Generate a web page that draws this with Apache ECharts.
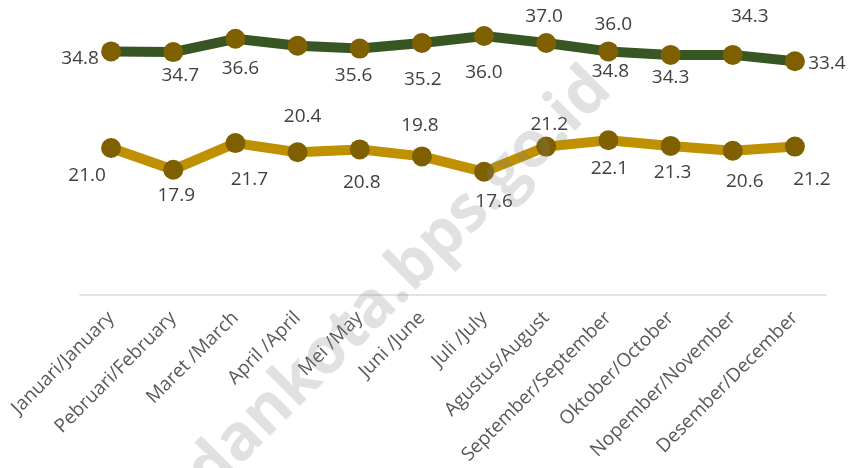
<!DOCTYPE html>
<html>
<head>
<meta charset="utf-8">
<script src="https://cdn.jsdelivr.net/npm/echarts@6/dist/echarts.min.js"></script>
<style>
  html, body { margin: 0; padding: 0; background: #fff; }
  #chart { width: 853px; height: 468px; }
</style>
</head>
<body>
<div id="chart"></div>
<script>
var months = [
  'Januari/January', 'Pebruari/February', 'Maret /March', 'April /April',
  'Mei /May', 'Juni /June', 'Juli /July', 'Agustus/August',
  'September/September', 'Oktober/October', 'Nopember/November', 'Desember/December'
];
var upperValues = [34.8, 34.7, 36.6, 35.6, 35.2, 36.0, 37.0, 36.0, 34.8, 34.3, 34.3, 33.4];
var lowerValues = [21.0, 17.9, 21.7, 20.4, 20.8, 19.8, 17.6, 21.2, 22.1, 21.3, 20.6, 21.2];

// where each value label sits, relative to its point (as placed in the source chart)
var upperLabelShift = [[-31, 7], [7, 23], [5, 30], [56, 30], [63, 31], [62, 30],
  [60, -19], [67, -18], [2, 20], [0, 23], [17, -38], [32, 2]];
var lowerLabelShift = [[-24, 28], [3, 26], [14, 36], [5, -36], [2, 33], [-2, -31],
  [10, 30], [3, -22], [1, 28], [2, 27], [12, 31], [17, 33]];

var FONT = "'Open Sans', sans-serif";

function buildData(values, shifts) {
  return values.map(function(v, i) {
    return {
      value: v,
      label: { offset: shifts[i] }
    };
  });
}

function lineSeries(name, values, shifts, color) {
  return {
    name: name,
    type: 'line',
    data: buildData(values, shifts),
    symbol: 'circle',
    symbolSize: 20,
    lineStyle: { color: color, width: 10 },
    itemStyle: { color: '#7F6000' },
    label: {
      show: true,
      position: 'inside',
      color: '#404040',
      fontSize: 19,
      fontFamily: FONT,
      formatter: function(p) { return p.value.toFixed(1); }
    },
    z: 3
  };
}

var chart = echarts.init(document.getElementById('chart'));

// watermark: middle of the text's right end, turned 45 degrees
var wmX = 601, wmY = 79;

var option = {
  animation: false,
  grid: { left: 80, right: 27, top: 15, bottom: 173 },
  xAxis: {
    type: 'category',
    data: months,
    boundaryGap: true,
    axisLine: { lineStyle: { color: '#d9d9d9', width: 1.5 } },
    axisTick: { show: false },
    axisLabel: {
      interval: 0,
      rotate: 45,
      margin: 20,
      color: '#595959',
      fontSize: 19,
      fontFamily: FONT
    }
  },
  yAxis: {
    type: 'value',
    min: 0,
    max: 40,
    show: false
  },
  series: [
    lineSeries('Atas', upperValues, upperLabelShift, '#375623'),
    lineSeries('Bawah', lowerValues, lowerLabelShift, '#BF9000')
  ],
  graphic: [{
    type: 'text',
    x: wmX,
    y: wmY,
    rotation: Math.PI / 4,
    z: 100,
    silent: true,
    style: {
      text: 'medankota.bps.go.id',
      font: "bold 64px 'Open Sans', sans-serif",
      fill: 'rgba(128,128,128,0.24)',
      textAlign: 'right',
      textVerticalAlign: 'middle'
    }
  }]
};

chart.setOption(option);
</script>
</body>
</html>
